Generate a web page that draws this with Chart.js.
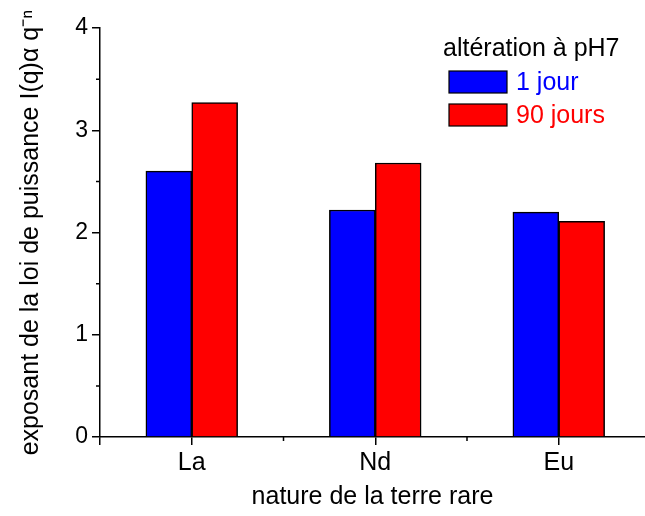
<!DOCTYPE html>
<html>
<head>
<meta charset="utf-8">
<script src="https://cdn.jsdelivr.net/npm/chart.js@4.4.0/dist/chart.umd.min.js"></script>
<style>
  html, body { margin: 0; padding: 0; background: #fff; }
  #wrap { width: 645px; height: 516px; }
</style>
</head>
<body>
<div id="wrap"><canvas id="myChart"></canvas></div>
<script>
const categories = ['La', 'Nd', 'Eu'];
const positions = [1, 2, 3];
const seriesNames = ['1 jour', '90 jours'];
const jour1 = [2.60, 2.22, 2.20];
const jours90 = [3.27, 2.68, 2.11];
const yTicks = [0, 1, 2, 3, 4];
const legendTitle = 'altération à pH7';

const FONT = 'Liberation Sans, Arial, sans-serif';

const pts = vals => vals.map((v, i) => ({ x: positions[i], y: v }));

// legend + short minor ticks
const extras = {
  id: 'extras',
  afterDraw(chart) {
    const c = chart.ctx;
    const a = chart.chartArea;
    const ys = chart.scales.y, xs = chart.scales.x;
    c.save();
    c.strokeStyle = '#000';
    c.lineWidth = 1.5;
    c.beginPath();
    for (let v = 0.5; v < 4; v += 1) {
      const py = ys.getPixelForValue(v);
      c.moveTo(a.left - 4, py);
      c.lineTo(a.left, py);
    }
    [1.5, 2.5].forEach(v => {
      const px = xs.getPixelForValue(v);
      c.moveTo(px, a.bottom);
      c.lineTo(px, a.bottom + 4);
    });
    c.stroke();

    c.font = '25px ' + FONT;
    c.textBaseline = 'alphabetic';
    c.fillStyle = '#000';
    c.fillText(legendTitle, 443, 56);
    c.textBaseline = 'middle';
    c.lineWidth = 1.2;
    chart.data.datasets.forEach((ds, i) => {
      const y = 71 + i * 33;
      c.fillStyle = ds.backgroundColor;
      c.fillRect(449, y, 58, 22);
      c.strokeRect(449, y, 58, 22);
      c.fillText(ds.label, 516, y + 12);
    });
    c.restore();
  }
};

const ctx = document.getElementById('myChart').getContext('2d');
const myChart = new Chart(ctx, {
  type: 'bar',
  data: {
    datasets: [{
      label: seriesNames[0],
      data: pts(jour1),
      backgroundColor: '#0000ff',
      borderColor: '#000',
      borderWidth: 1.5
    }, {
      label: seriesNames[1],
      data: pts(jours90),
      backgroundColor: '#ff0000',
      borderColor: '#000',
      borderWidth: 1.5
    }]
  },
  options: {
    responsive: true,
    maintainAspectRatio: false,
    animation: false,
    layout: { padding: { left: 0, top: 28, right: 0, bottom: 0 } },
    datasets: { bar: { categoryPercentage: 1.0, barPercentage: 1.0 } },
    plugins: {
      legend: { display: false },
      tooltip: { enabled: false }
    },
    scales: {
      x: {
        type: 'linear',
        min: 0.5,
        max: 3.47,
        offset: false,
        afterFit: s => { s.height = 79; },
        afterBuildTicks: s => {
          s.ticks = [0.5, 1, 2, 3].map(v => ({ value: v }));
        },
        ticks: {
          autoSkip: false,
          maxRotation: 0,
          color: '#000',
          font: { family: FONT, size: 25 },
          padding: 3,
          callback: v => {
            const i = positions.indexOf(v);
            return i >= 0 ? categories[i] : '';
          }
        },
        grid: { offset: false, drawOnChartArea: false, color: '#000', tickLength: 8, lineWidth: 1.5 },
        border: { color: '#000', width: 1.5 },
        title: {
          display: true,
          text: 'nature de la terre rare',
          color: '#000',
          font: { family: FONT, size: 25 },
          padding: { top: 9 }
        }
      },
      y: {
        min: 0,
        max: 4,
        afterFit: s => { s.width = 100; },
        afterBuildTicks: s => {
          s.ticks = yTicks.map(v => ({ value: v }));
        },
        ticks: {
          color: '#000',
          font: { family: FONT, size: 23 },
          padding: 4,
          callback: v => String(v)
        },
        grid: { drawOnChartArea: false, color: '#000', tickLength: 8, lineWidth: 1.5 },
        border: { color: '#000', width: 1.5 },
        title: {
          display: true,
          text: 'exposant de la loi de puissance I(q)α q⁻ⁿ',
          color: '#000',
          font: { family: FONT, size: 25 },
          padding: { top: 16 }
        }
      }
    }
  },
  plugins: [extras]
});
</script>
</body>
</html>
